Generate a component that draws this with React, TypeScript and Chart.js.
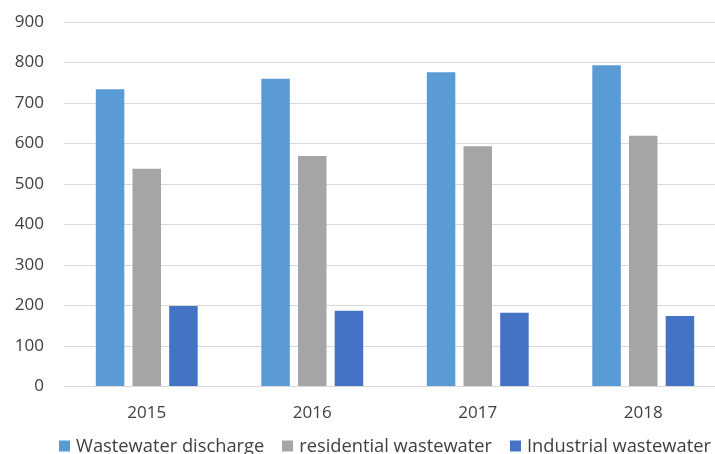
import React, { useEffect, useRef } from "react";
import { Chart, registerables } from "chart.js";

Chart.register(...registerables);

const years = ["2015", "2016", "2017", "2018"];
const wastewaterDischarge = [734, 760, 776, 793];
const residentialWastewater = [538, 569, 593, 619];
const industrialWastewater = [199, 187, 182, 174];
const yTicks = [0, 100, 200, 300, 400, 500, 600, 700, 800, 900];

const FONT = "'Open Sans', sans-serif";
const TEXT = "#404040";

// Bottom legend drawn as one centred row: square swatch, label, gap
const rowLegend = {
  id: "rowLegend",
  afterDraw(chart: any) {
    const { ctx } = chart;
    const box = 11;
    const textGap = 6;
    const itemGap = 18;
    const cy = 446;
    ctx.save();
    ctx.font = `18.3px ${FONT}`;
    ctx.textBaseline = "middle";
    ctx.textAlign = "left";
    const items = chart.data.datasets.map((d: any) => ({
      label: d.label as string,
      color: d.backgroundColor as string,
      w: ctx.measureText(d.label).width,
    }));
    const total =
      items.reduce((s: number, it: any) => s + box + textGap + it.w, 0) + itemGap * (items.length - 1);
    let x = chart.width / 2 - total / 2;
    for (const it of items) {
      ctx.fillStyle = it.color;
      ctx.fillRect(Math.round(x), cy - box / 2, box, box);
      ctx.fillStyle = TEXT;
      ctx.fillText(it.label, x + box + textGap, cy + 1);
      x += box + textGap + it.w + itemGap;
    }
    ctx.restore();
  },
};

export default function App() {
  const ref = useRef<HTMLCanvasElement | null>(null);

  useEffect(() => {
    if (!ref.current) return;
    const chart = new Chart(ref.current, {
      type: "bar",
      data: {
        labels: years,
        datasets: [
          { label: "Wastewater discharge", data: wastewaterDischarge, backgroundColor: "#5B9BD5" },
          { label: "residential wastewater", data: residentialWastewater, backgroundColor: "#A5A5A5" },
          { label: "Industrial wastewater", data: industrialWastewater, backgroundColor: "#4472C4" },
        ],
      },
      options: {
        responsive: false,
        animation: false,
        layout: { padding: { left: 0, right: 0, top: 22, bottom: 15 } },
        datasets: { bar: { categoryPercentage: 0.665, barPercentage: 0.777 } },
        scales: {
          x: {
            grid: { display: false, drawTicks: false },
            border: { display: false },
            ticks: { color: TEXT, font: { family: FONT, size: 17 }, padding: 16 },
          },
          y: {
            min: 0,
            max: 900,
            afterBuildTicks: (axis: any) => {
              axis.ticks = yTicks.map((v) => ({ value: v }));
            },
            afterFit: (s: any) => {
              s.width = 64;
              s.paddingTop = 0;
              s.paddingBottom = 0;
            },
            grid: { color: "#D9D9D9", lineWidth: 1, drawTicks: false },
            border: { display: false },
            ticks: { color: TEXT, font: { family: FONT, size: 17 }, padding: 20 },
          },
          // empty right-hand margin so the plot runs on past the visible edge
          margin: {
            type: "linear",
            position: "right",
            grid: { display: false, drawTicks: false },
            border: { display: false },
            ticks: { display: false },
            afterFit: (s: any) => {
              s.width = 44;
              s.paddingTop = 0;
              s.paddingBottom = 0;
            },
          },
        },
        plugins: {
          legend: { display: false },
          tooltip: { enabled: false },
        },
      },
      plugins: [rowLegend],
    });
    return () => chart.destroy();
  }, []);

  return (
    <div style={{ position: "fixed", left: 0, top: 0, width: 715, height: 454, overflow: "hidden", background: "#fff" }}>
      <canvas ref={ref} width={770} height={454} style={{ display: "block" }} />
    </div>
  );
}
